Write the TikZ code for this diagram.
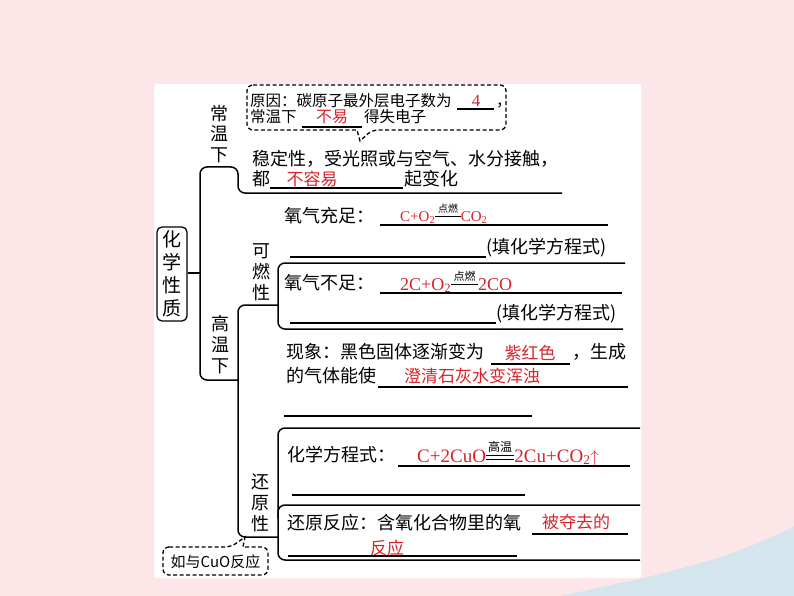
\documentclass[tikz,border=0pt]{standalone}
\usepackage{amsmath}
\usepackage{fontspec}
\setmainfont{Noto Sans CJK SC}
\newfontfamily\cjk{Noto Sans CJK SC}
\newfontfamily\tnr{Liberation Serif}
\usetikzlibrary{positioning}

\definecolor{ansred}{RGB}{214,36,44}
\definecolor{bgpink}{RGB}{253,230,232}
\definecolor{bgblue}{RGB}{212,229,237}

% reaction condition over a single or a double line
\newcommand\cond[3]{\ensuremath{\overset{\text{\cjk\fontsize{#3}{#3}\selectfont\color{black}#1}}{\text{\color{black}\rule[0.3em]{#2}{0.7pt}}}}}
\newcommand\condd[3]{\ensuremath{\overset{\text{\cjk\fontsize{#3}{#3}\selectfont\color{black}#1}}{\text{\color{black}\rlap{\rule[0.12em]{#2}{0.6pt}}\rule[0.36em]{#2}{0.6pt}}}}}

\begin{document}
\begin{tikzpicture}[x=1pt, y=-1pt,
    txt/.style={anchor=base west, inner sep=0pt, font=\fontsize{18}{20}\selectfont},
    small/.style={anchor=base west, inner sep=0pt, font=\fontsize{15.5}{17}\selectfont},
    ans/.style={anchor=base, inner sep=0pt, text=ansred, font=\fontsize{17}{19}\selectfont},
    vlabel/.style={inner sep=0pt, align=center, font=\fontsize{18}{21}\selectfont},
    blank/.style={line width=1.3pt},
    brk/.style={line width=1.5pt, rounded corners=7pt},
    callout/.style={dashed, line width=1.3pt, dash pattern=on 4pt off 2.5pt, rounded corners=6pt}
]
% background
\fill[bgpink] (0,0) rectangle (794,596);
\fill[bgblue] (560,596) .. controls (660,575) and (730,560) .. (794,526) -- (794,596) -- cycle;
\fill[white, rounded corners=2pt] (154,84) rectangle (641,578);
\useasboundingbox (0,0) rectangle (794,596);

% root and branch labels
\node[draw, rounded corners=5pt, line width=1.3pt, minimum width=30pt, minimum height=94pt,
      inner sep=0pt, align=center, font=\fontsize{19}{23}\selectfont] (root) at (172,274) {化\\学\\性\\质};
\node[vlabel, font=\fontsize{18}{20.7}\selectfont] (cwx) at (219,134) {常\\温\\下};
\node[vlabel] (gwx) at (220,345) {高\\温\\下};
\node[vlabel] (krx) at (261,272) {可\\燃\\性};
\node[vlabel] (hyx) at (260,503) {还\\原\\性};

% brackets
\draw[line width=1.5pt] (root.east |- 0,273) -- (200,273);
\draw[brk] (562,193) -- (238,193) -- (238,167) -- (200,167) -- (200,380) -- (238,380);
\draw[brk] (278,305) -- (238,305) -- (238,537) -- (278,537);
\draw[brk] (625,263) -- (278,263) -- (278,329) -- (623,329);
\draw[brk] (640,428) -- (278,428) -- (278,560) -- (640,560);
\draw[brk] (278,518) -- (278,505) -- (640,505);

% callout: reason
\draw[callout] (247,85) -- (506,85) -- (506,130) -- (372,130) [sharp corners] -- (360,141) -- (357,130)
  [rounded corners=6pt] -- (247,130) -- cycle;
\node[small] (why1) at (250,107) {原因：碳原子最外层电子数为};
\draw[blank] (457,109) -- (494,109);
\node[ans, font=\fontsize{17}{19}\tnr] (a1) at (476,107) {4};
\node[small] (why1b) at (496,107) {，};
\node[small] (why2) at (250,123) {常温下};
\draw[blank] (302,127) -- (362,127);
\node[ans, font=\fontsize{16}{18}\selectfont] (a2) at (332,123) {不易};
\node[small] (why2b) at (364,123) {得失电子};

% room temperature
\node[txt] (wd1) at (252,166) {稳定性，受光照或与空气、水分接触，};
\node[txt] (wd2) at (252,185) {都};
\draw[blank] (270,188) -- (403,188);
\node[ans] (a3) at (312,185) {不容易};
\node[txt] (wd2b) at (404,185) {起变化};

% combustion
\node[txt] (o1) at (284,222) {氧气充足：};
\draw[blank] (380,225) -- (608,225);
\node[ans, anchor=base west, font=\fontsize{15}{17}\tnr] (a4) at (400,221)
  {C+O\textsubscript{2}\cond{点燃}{1.7em}{10}CO\textsubscript{2}};
\draw[blank] (290,257) -- (486,257);
\node[txt] (o1b) at (486,253) {(填化学方程式)};
\node[txt] (o2) at (284,289) {氧气不足：};
\draw[blank] (380,293) -- (622,293);
\node[ans, anchor=base west, font=\fontsize{18}{20}\tnr] (a5) at (400,290)
  {2C+O\textsubscript{2}\cond{点燃}{1.5em}{11}2CO};
\draw[blank] (290,323) -- (496,323);
\node[txt] (o2b) at (496,319) {(填化学方程式)};

% phenomenon
\node[txt] (ph1) at (286,358) {现象：黑色固体逐渐变为};
\draw[blank] (491,364) -- (570,364);
\node[ans] (a6) at (530,359) {紫红色};
\node[txt] (ph1b) at (572,358) {，生成};
\node[txt] (ph2) at (286,382) {的气体能使};
\draw[blank] (378,387) -- (628,387);
\node[ans] (a7) at (472,382) {澄清石灰水变浑浊};
\draw[blank] (284,416) -- (532,416);

% reduction
\node[txt] (rd1) at (287,461) {化学方程式：};
\draw[blank] (398,466) -- (630,466);
\node[ans, anchor=base west, font=\fontsize{19}{21}\tnr] (a8) at (417,462)
  {C+2CuO\condd{高温}{1.5em}{12}2Cu+CO\textsubscript{2}\ensuremath{\uparrow}};
\draw[blank] (292,495) -- (525,495);
\node[txt] (rd2) at (287,529) {还原反应：含氧化合物里的氧};
\draw[blank] (532,534) -- (628,534);
\node[ans] (a9) at (576,528) {被夺去的};
\draw[blank] (288,556) -- (517,556);
\node[ans] (a10) at (387,554) {反应};

% callout: with CuO
\draw[callout] (163,547) -- (231,547) [sharp corners] -- (245,537) -- (243,547)
  [rounded corners=6pt] -- (268,547) -- (268,575) -- (163,575) -- cycle;
\node[inner sep=0pt, font=\fontsize{15}{17}\selectfont] (cuo) at (215.5,561.5) {如与CuO反应};
\end{tikzpicture}
\end{document}
